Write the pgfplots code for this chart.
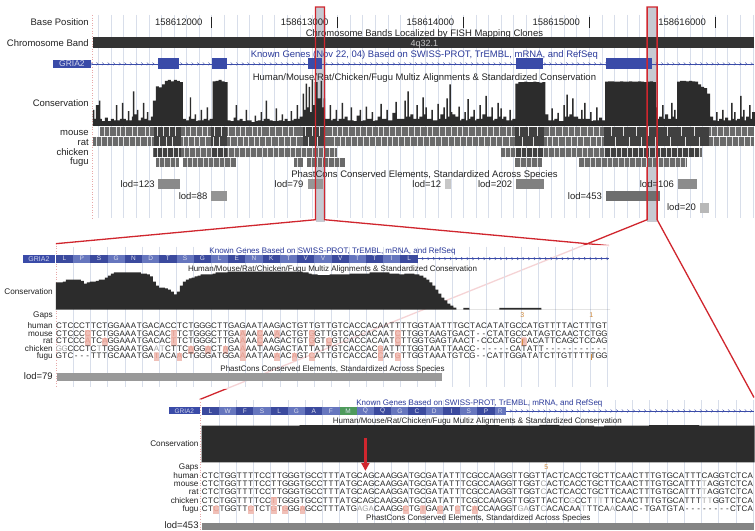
\documentclass[border=0pt]{standalone}
\usepackage{fontspec}
\setmainfont{Liberation Sans}
\usepackage{pgfplots}
\pgfplotsset{compat=1.18}
\usetikzlibrary{decorations.markings,arrows.meta}

\definecolor{gblue}{HTML}{3A4BA8}
\definecolor{tblue}{HTML}{2B3A9A}
\definecolor{aadark}{HTML}{3B4A9E}
\definecolor{aalight}{HTML}{6676BE}
\definecolor{aagreen}{HTML}{4E9A5C}
\definecolor{consc}{HTML}{2C2C2C}
\definecolor{gridc}{HTML}{D8DEEA}
\definecolor{redc}{HTML}{D0262E}
\definecolor{hil}{HTML}{C6CAD2}
\definecolor{bandc}{HTML}{333333}
\definecolor{seqpink}{HTML}{F0C0B8}
\definecolor{seqpinktxt}{HTML}{E49A8C}
\definecolor{seqlight}{HTML}{A0A0A0}
\definecolor{orng}{HTML}{D08A3C}
\definecolor{pinkline}{HTML}{E8A8A8}
\definecolor{trkbase}{HTML}{6A6A6A}
\definecolor{trkdark}{HTML}{404040}
\definecolor{txtc}{HTML}{222222}

% font sizes: top panel, zoomed panels, zoomed-panel labels
\newcommand\fA{\fontsize{9.5}{11}\selectfont}
\newcommand\fB{\fontsize{8}{9}\selectfont}
\newcommand\fL{\fontsize{8.2}{9}\selectfont}

% one alignment row: fixed-width columns; lowercase = mismatch box, +X = faint base
\newlength\colw
\setlength\colw{5.75pt}
\makeatletter
\newif\ifsq@light
\def\sq@stop{\sq@stop}
\newcommand\seqrow[1]{\global\sq@lightfalse\sq@loop#1\sq@stop}
\def\sq@loop#1{\ifx#1\sq@stop\else\sq@char#1\expandafter\sq@loop\fi}
\def\sq@char#1{%
  \if#1+\global\sq@lighttrue
  \else
    \ifnum`#1>96
      \sq@boxed{#1}%
    \else
      \ifsq@light\makebox[\colw]{\color{seqlight}#1}\else\makebox[\colw]{#1}\fi
    \fi
    \global\sq@lightfalse
  \fi}
\def\sq@boxed#1{\makebox[\colw]{\makebox[0pt]{\color{seqpink}\rule[-2.2pt]{\colw}{8pt}}\makebox[0pt]{\color{seqpinktxt}\uppercase{#1}}}}
\makeatother

\newcommand\drect[5]{\addplot[fill=#5, draw=none] coordinates {(#1,#3) (#2,#3) (#2,#4) (#1,#4)};}
\newcommand\stripes[3]{\addplot[only marks, mark=|, mark size=4.5pt, mark options={draw=#2, line width=0.7pt}] table[row sep=\\, y expr=#1] {x\\#3};}
\newcommand\aacell[5]{%
  \fill[#4] (axis cs:{#1+17.25*(#2-1)},{#5-4}) rectangle (axis cs:{#1+17.25*#2},{#5+4});
  \node[text=white!80!aadark, font=\fontsize{6.5}{7}\selectfont] at (axis cs:{#1+17.25*(#2-0.5)},#5) {#3};}
\newcommand\lod[8]{%
  \drect{#1}{#2}{#3}{#4}{#5}
  \node[anchor=base east, font=\fA] at (axis cs:#6,#7) {lod=#8};}

\tikzset{
  every node/.style={inner sep=0pt, text=txtc},
  geneline/.style={draw=gblue, line width=0.5pt, postaction={decorate, decoration={markings,
    mark=between positions 0 and 1 step 5.6pt with {\draw[gblue, line width=0.4pt] (-1pt,1.4pt)--(0.6pt,0pt)--(-1pt,-1.4pt);}}}},
  gridline/.style={draw=gridc, line width=0.5pt},
  border/.style={draw=pinkline, line width=0.6pt, dotted},
}

\begin{document}
\begin{tikzpicture}
\begin{axis}[
  at={(0,0)}, anchor=south west,
  scale only axis, width=755pt, height=531pt,
  xmin=0, xmax=755, ymin=0, ymax=531, y dir=reverse,
  hide axis, clip=false,
  every axis plot/.append style={mark=none},
]
\fill[white] (axis cs:0,0) rectangle (axis cs:755,531);

%% ---------------- overview panel ----------------
\pgfplotsinvokeforeach{-9,...,43}{\draw[gridline] (axis cs:{212+12.6*#1},15) -- (axis cs:{212+12.6*#1},218);}
\draw[border] (axis cs:92,15) -- (axis cs:92,218);
\fill[hil] (axis cs:316,7) rectangle (axis cs:325,222);
\fill[hil] (axis cs:648,7) rectangle (axis cs:658,222);

\node[anchor=base east, font=\fA] at (axis cs:89,26) {Base Position};
\node[anchor=base east, font=\fA] at (axis cs:203,26) {158612000};
\node[anchor=base east, font=\fA] at (axis cs:329,26) {158613000};
\node[anchor=base east, font=\fA] at (axis cs:455,26) {158614000};
\node[anchor=base east, font=\fA] at (axis cs:581,26) {158615000};
\node[anchor=base east, font=\fA] at (axis cs:707,26) {158616000};
\draw[line width=0.9pt, txtc] (axis cs:212,17) -- (axis cs:212,28);
\draw[line width=0.9pt, txtc] (axis cs:338,17) -- (axis cs:338,28);
\draw[line width=0.9pt, txtc] (axis cs:464,17) -- (axis cs:464,28);
\draw[line width=0.9pt, txtc] (axis cs:590,17) -- (axis cs:590,28);
\draw[line width=0.9pt, txtc] (axis cs:716,17) -- (axis cs:716,28);

\node[anchor=base, font=\fA] at (axis cs:425,36.3) {Chromosome Bands Localized by FISH Mapping Clones};
\node[anchor=base east, font=\fA] at (axis cs:89,46.5) {Chromosome Band};
\drect{93}{755}{37}{48}{bandc}
\node[anchor=base, text=black!22, font=\fontsize{9}{10}\selectfont] at (axis cs:425,46.2) {4q32.1};

\node[anchor=base, text=tblue, font=\fA] at (axis cs:425,57.5) {Known Genes (Nov 22, 04) Based on SWISS-PROT, TrEMBL, mRNA, and RefSeq};
\draw[geneline] (axis cs:92,64) -- (axis cs:755,64);
\fill[gblue] (axis cs:53,60) rectangle (axis cs:91,68);
\node[text=white!78!gblue, font=\fontsize{8.5}{9}\selectfont] at (axis cs:72,64) {GRIA2};
\drect{158}{179}{58.5}{69.5}{gblue}
\drect{212}{227}{58.5}{69.5}{gblue}
\drect{308}{322}{58.5}{69.5}{gblue}
\drect{517}{544}{58.5}{69.5}{gblue}
\drect{607}{653}{58.5}{69.5}{gblue}

\node[anchor=base, font=\fA] at (axis cs:425,80.4) {Human/Mouse/Rat/Chicken/Fugu Multiz Alignments \& Standardized Conservation};
\node[anchor=base east, font=\fA] at (axis cs:89,107) {Conservation};

% conservation score, overview
\addplot[const plot, fill=consc, draw=none] table[x=x, y expr=126-46*\thisrow{h}] {
x h
92.5 0
93 .35
94.5 .15
96 .45
99 .55
100.5 .15
102 .10
105 .18
108 .10
111 .15
114 .12
116 .45
117.5 .12
120 .15
122 .50
123.5 .15
126 .12
128 .32
129.5 .12
132 .20
133 .75
134.5 .25
137 .35
138.5 .12
141 .18
143 .50
144.5 .15
147 .30
148.5 .12
151 .20
153 .55
156 .86
159 .84
162 .90
165 .98
168 1
171 .97
174 1
177 .98
180 .95
183 .15
186 .12
189 .20
190 .62
191.5 .15
195 .25
196.5 .10
198 .12
201 .35
202.5 .12
204 .15
207 .40
208.5 .12
210 .15
213 .97
216 .98
219 1
222 .97
225 .95
228 .12
231 .10
234 .18
236 .45
237.5 .12
240 .15
243 .10
246 .35
247.5 .12
249 .12
252 .08
255 .22
256.5 .10
258 .12
261 .30
262.5 .10
264 .15
266 .55
267.5 .15
270 .12
273 .10
276 .38
277.5 .10
279 .12
282 .25
283.5 .10
285 .15
288 .10
291 .32
292.5 .12
294 .15
297 .45
298.5 .15
300 .20
303 .70
304.5 .35
306 .92
307.5 .40
309 .85
310.5 .30
312 1
313.5 .45
315 .95
318 .60
321 .98
322.5 .40
324 .60
325.5 .15
327 .15
330 .45
331.5 .12
333 .15
336 .35
337.5 .10
339 .15
342 .50
343.5 .15
345 .20
348 .12
351 .40
352.5 .12
354 .10
357 .22
360 .35
361.5 .10
363 .12
366 .42
367.5 .15
369 .15
372 .30
373.5 .10
375 .12
378 .20
381 .48
382.5 .15
384 .15
387 .35
388.5 .12
390 .12
393 .28
396 .52
397.5 .15
399 .15
402 .15
405 .55
406.5 .20
408 .75
409.5 .20
411 .25
414 .15
417 .45
418.5 .15
420 .20
423 .62
424.5 .25
426 .40
427.5 .15
429 .15
432 .35
433.5 .12
435 .12
438 .48
439.5 .15
441 .25
444 .40
445.5 .15
447 .60
448.5 .20
450 .90
451.5 .30
453 .25
456 .20
459 .42
460.5 .12
462 .15
465 .30
466.5 .12
468 .58
469.5 .15
471 .20
474 .35
475.5 .12
477 .15
480 .45
481.5 .15
483 .25
486 .65
487.5 .20
489 .20
492 .40
493.5 .12
495 .15
498 .50
499.5 .20
501 .38
502.5 .15
504 .20
507 .12
510 .35
511.5 .12
513 .15
516 .92
519 .95
522 .95
525 .96
528 .95
531 .95
534 .96
537 .95
540 .94
543 .95
546 .25
549 .12
552 .38
553.5 .12
555 .15
558 .28
559.5 .10
561 .10
564 .45
565.5 .20
567 .68
568.5 .20
570 .25
573 .60
574.5 .20
576 .20
579 .15
582 .35
583.5 .15
585 .50
586.5 .15
588 .15
591 .30
592.5 .10
594 .12
597 .40
598.5 .12
600 .18
603 .12
606 .96
609 .97
612 .97
615 .96
618 .96
621 .97
624 .96
627 .96
630 .97
633 .96
636 .96
639 .97
642 .96
645 .95
648 .96
651 .97
654 .95
657 .40
658.5 .15
660 .20
663 .45
664.5 .15
666 .25
669 .15
672 .50
673.5 .20
675 .35
676.5 .15
678 .96
681 .98
684 .98
687 .97
690 .98
693 .97
696 .96
699 .90
702 .85
705 .82
708 .70
711 .20
714 .12
717 .30
718.5 .10
720 .15
723 .35
724.5 .12
726 .18
729 .12
732 .50
733.5 .15
735 .30
736.5 .12
738 .15
741 .65
742.5 .20
744 .35
745.5 .12
747 .20
750 .45
751.5 .15
753 .30
756 0
};

% pairwise alignment tracks
\node[anchor=base east, font=\fA] at (axis cs:89,135.5) {mouse};
\node[anchor=base east, font=\fA] at (axis cs:89,145.5) {rat};
\node[anchor=base east, font=\fA] at (axis cs:89,155.5) {chicken};
\node[anchor=base east, font=\fA] at (axis cs:89,165) {fugu};
\drect{100}{755}{127.5}{136.5}{trkbase}
\drect{93}{755}{137.5}{146.5}{trkbase}
\drect{153}{337}{148}{157}{trkbase}
\drect{502}{703}{148}{157}{trkbase}
\drect{156}{179}{158}{167}{trkbase}
\drect{183}{236}{158}{167}{trkbase}
\drect{294}{303}{158}{167}{trkbase}
\drect{307}{345}{158}{167}{trkbase}
\drect{516}{543}{158}{167}{trkbase}
\drect{580}{688}{158}{167}{trkbase}
\drect{154}{181}{127.5}{146.5}{trkdark}
\drect{211}{227}{127.5}{146.5}{trkdark}
\drect{303}{325}{127.5}{146.5}{trkdark}
\drect{516}{545}{127.5}{146.5}{trkdark}
\drect{605}{710}{127.5}{146.5}{trkdark}
\drect{154}{181}{148}{157}{trkdark}
\drect{211}{227}{148}{157}{trkdark}
\drect{516}{545}{148}{157}{trkdark}
\drect{605}{700}{148}{157}{trkdark}
\stripes{132}{white!88!black}{104\\109\\117\\121\\126\\133\\138\\146\\150\\158\\164\\170\\176\\186\\191\\197\\203\\208\\215\\222\\229\\236\\241\\246\\253\\258\\262\\270\\276\\283\\289\\294\\306\\313\\320\\333\\338\\343\\349\\356\\361\\367\\373\\379\\384\\390\\396\\402\\409\\415\\421\\428\\433\\440\\446\\452\\458\\463\\469\\476\\482\\488\\494\\500\\507\\512\\520\\529\\538\\550\\556\\563\\569\\575\\581\\588\\594\\600\\612\\624\\637\\649\\668\\682\\695\\712\\718\\724\\730\\736\\742\\748\\}
\stripes{142}{white!88!black}{96\\101\\107\\112\\119\\124\\130\\136\\141\\148\\152\\160\\167\\173\\184\\189\\195\\200\\206\\214\\220\\231\\238\\244\\249\\255\\260\\266\\272\\279\\285\\291\\297\\309\\318\\335\\341\\346\\352\\358\\364\\370\\376\\382\\388\\393\\399\\405\\411\\418\\424\\430\\436\\442\\449\\455\\461\\467\\473\\479\\485\\491\\497\\503\\510\\523\\534\\548\\553\\559\\566\\572\\578\\584\\591\\597\\602\\616\\630\\642\\656\\671\\686\\700\\714\\720\\727\\733\\739\\745\\751\\}
\stripes{152.5}{white!85!black}{158\\163\\168\\174\\179\\185\\190\\196\\201\\207\\212\\218\\224\\229\\235\\240\\246\\251\\257\\263\\268\\274\\279\\285\\291\\296\\302\\307\\313\\319\\324\\330\\335\\506\\511\\516\\522\\527\\533\\538\\544\\549\\555\\560\\566\\572\\577\\583\\588\\594\\600\\605\\611\\617\\622\\628\\633\\639\\644\\650\\656\\661\\667\\672\\678\\683\\689\\695\\700\\}
\stripes{162.5}{white!85!black}{160\\165\\171\\176\\188\\193\\198\\204\\209\\214\\220\\225\\231\\298\\312\\318\\323\\329\\335\\340\\521\\527\\532\\538\\585\\591\\596\\602\\608\\613\\619\\625\\630\\636\\642\\647\\653\\659\\664\\670\\676\\681\\686\\}

% PhastCons conserved elements
\node[anchor=base, font=\fA] at (axis cs:425,178) {PhastCons Conserved Elements, Standardized Across Species};
\lod{158}{180}{179}{189}{black!46}{155}{188}{123}
\lod{211}{227}{191}{201}{black!42}{208}{199.5}{88}
\lod{308}{323}{179}{189}{black!41}{304}{188}{79}
\lod{446}{452}{179}{189}{black!22}{442}{188}{12}
\lod{517}{545}{179}{189}{black!50}{513}{188}{202}
\lod{607}{661}{191}{201}{black!57}{603}{199.5}{453}
\lod{679}{698}{179}{189}{black!45}{675}{188}{106}
\lod{701}{710}{203}{213}{black!28}{697}{211}{20}

% zoom frames
\draw[redc, line width=1.3pt, line join=miter] (axis cs:56,244) -- (axis cs:316,220) -- (axis cs:316,7) -- (axis cs:325,7) -- (axis cs:325,220) -- (axis cs:610,246);
\draw[redc, line width=1.3pt, line join=miter] (axis cs:200,400) -- (axis cs:648,220) -- (axis cs:648,7) -- (axis cs:658,7) -- (axis cs:658,220) -- (axis cs:755,398);

%% ---------------- first zoomed panel ----------------
\fill[white, opacity=0.8] (axis cs:56.7,245.5) rectangle (axis cs:611,390);
\pgfplotsinvokeforeach{1,...,32}{\draw[gridline] (axis cs:{56+17.25*#1},247) -- (axis cs:{56+17.25*#1},388);}
\draw[border] (axis cs:56,246) -- (axis cs:56,388);
\node[anchor=base, text=tblue, font=\fB] at (axis cs:333,254) {Known Genes Based on SWISS-PROT, TrEMBL, mRNA, and RefSeq};
\draw[geneline] (axis cs:418,259) -- (axis cs:610,259);
\fill[gblue] (axis cs:23,255) rectangle (axis cs:55,263);
\node[text=white!75!gblue, font=\fontsize{7}{7}\selectfont] at (axis cs:39,259) {GRIA2};
\aacell{56}{1}{L}{aadark}{259}
\aacell{56}{2}{P}{aalight}{259}
\aacell{56}{3}{S}{aadark}{259}
\aacell{56}{4}{G}{aalight}{259}
\aacell{56}{5}{N}{aadark}{259}
\aacell{56}{6}{D}{aalight}{259}
\aacell{56}{7}{T}{aadark}{259}
\aacell{56}{8}{S}{aalight}{259}
\aacell{56}{9}{G}{aadark}{259}
\aacell{56}{10}{L}{aalight}{259}
\aacell{56}{11}{E}{aadark}{259}
\aacell{56}{12}{N}{aalight}{259}
\aacell{56}{13}{K}{aadark}{259}
\aacell{56}{14}{T}{aalight}{259}
\aacell{56}{15}{V}{aadark}{259}
\aacell{56}{16}{V}{aalight}{259}
\aacell{56}{17}{V}{aadark}{259}
\aacell{56}{18}{T}{aalight}{259}
\aacell{56}{19}{T}{aadark}{259}
\aacell{56}{20}{I}{aalight}{259}
\aacell{56}{21}{L}{aadark}{259}
\node[anchor=base, font=\fB] at (axis cs:333,272) {Human/Mouse/Rat/Chicken/Fugu Multiz Alignments \& Standardized Conservation};
\node[anchor=base east, font=\fL] at (axis cs:53,295) {Conservation};

\addplot[const plot, fill=consc, draw=none] table[x=x, y expr=310-40*\thisrow{h}] {
x h
55.5 0
56 .68
63 .70
66 .75
81 .72
84 .65
87 .68
90 .70
96 .72
99 .75
105 .80
108 .85
111 .90
114 .93
141 .90
147 .88
150 .83
153 .70
156 .60
159 .55
165 .53
168 .50
171 .45
174 .38
177 .45
180 .60
183 .70
186 .75
189 .78
192 .80
195 .83
198 .85
201 .88
213 .90
216 .93
228 .95
303 .93
309 .90
312 .88
318 .86
330 .88
350 .90
370 .93
390 .90
400 .88
405 .90
415 .88
420 .85
424 .80
427 .75
430 .68
433 .60
436 .50
439 .40
442 .30
445 .23
448 .15
451 .10
454 .05
457 0
464 .04
470 0
500 .04
542 0
611 0
};

\node[anchor=base east, font=\fL] at (axis cs:53,318) {Gaps};
\node[anchor=base, text=orng, font=\fontsize{7}{7}\selectfont] at (axis cs:523,318) {3};
\node[anchor=base, text=orng, font=\fontsize{7}{7}\selectfont] at (axis cs:592,318) {1};
\node[anchor=base east, font=\fL] at (axis cs:53,329) {human};
\node[anchor=base east, font=\fL] at (axis cs:53,336.6) {mouse};
\node[anchor=base east, font=\fL] at (axis cs:53,344.2) {rat};
\node[anchor=base east, font=\fL] at (axis cs:53,351.8) {chicken};
\node[anchor=base east, font=\fL] at (axis cs:53,359.4) {fugu};
\node[anchor=base west, font=\fB] at (axis cs:56,329) {\seqrow{CTCCCTTCTGGAAATGACACCTCTGGGCTTGAGAATAAGACTGTTGTTGTCACCACAATTTTGGTAATTTGCTACATATGCCATGTTTTACTTTGT}};
\node[anchor=base west, font=\fB] at (axis cs:56,336.6) {\seqrow{CTCCCcTCTGGAAATGACACtTCTGGGCTTGAaAAcAAaACTGTgGTTGTCACCACAATcTTGGTAAGTGACT--CTATGCCATAGTCAACTCTGG}};
\node[anchor=base west, font=\fB] at (axis cs:56,344.2) {\seqrow{CTCCCaTCaGGAAATGACACtTCTGGGCTTGAaAAcAAGACTGTgGTcGTCACCACAATcTTGGTGAGTAACT-CCCATGCtACATTCAGCTCCAG}};
\node[anchor=base west, font=\fB] at (axis cs:56,351.8) {\seqrow{+G+GCCCTC+TTGGAAATGA+A+TCTTCaGGaCTaGAaAATAAGACTATTATTGTCACCACgATTTTGGTAATTAACC------CATATT-----------}};
\node[anchor=base west, font=\fB] at (axis cs:56,359.4) {\seqrow{GTC---TTTGCAAATGAtACAaCTGGGATGGAaAATAAaACaGTcATTGTCACCACcATgTTGGTAAATGTCG--CATTGGATATCTTGTTTTTGG}};
\draw[orng, line width=0.8pt] (axis cs:522.8,339) -- (axis cs:522.8,345);
\draw[orng, line width=0.8pt] (axis cs:592,354) -- (axis cs:592,360);
\node[anchor=base, font=\fB] at (axis cs:333,371.5) {PhastCons Conserved Elements, Standardized Across Species};
\lod{57}{443}{373.3}{381}{black!40}{53}{379.5}{79}

%% ---------------- second zoomed panel ----------------
\pgfplotsinvokeforeach{1,...,32}{\draw[gridline] (axis cs:{202+17.25*#1},401) -- (axis cs:{202+17.25*#1},531);}
\draw[border] (axis cs:201,400) -- (axis cs:201,531);
\node[anchor=base, text=tblue, font=\fB] at (axis cs:480,406) {Known Genes Based on SWISS-PROT, TrEMBL, mRNA, and RefSeq};
\draw[geneline] (axis cs:506,411.5) -- (axis cs:755,411.5);
\fill[gblue] (axis cs:169,408) rectangle (axis cs:200,415);
\node[text=white!75!gblue, font=\fontsize{6.5}{7}\selectfont] at (axis cs:184.5,411.5) {GRIA2};
\aacell{202}{1}{L}{aadark}{411.5}
\aacell{202}{2}{W}{aalight}{411.5}
\aacell{202}{3}{F}{aadark}{411.5}
\aacell{202}{4}{S}{aalight}{411.5}
\aacell{202}{5}{L}{aadark}{411.5}
\aacell{202}{6}{G}{aalight}{411.5}
\aacell{202}{7}{A}{aadark}{411.5}
\aacell{202}{8}{F}{aalight}{411.5}
\aacell{202}{9}{M}{aagreen}{411.5}
\aacell{202}{10}{Q}{aalight}{411.5}
\aacell{202}{11}{Q}{aadark}{411.5}
\aacell{202}{12}{G}{aalight}{411.5}
\aacell{202}{13}{C}{aadark}{411.5}
\aacell{202}{14}{D}{aalight}{411.5}
\aacell{202}{15}{I}{aadark}{411.5}
\aacell{202}{16}{S}{aalight}{411.5}
\aacell{202}{17}{P}{aadark}{411.5}
\fill[aalight] (axis cs:495.25,407.5) rectangle (axis cs:506.75,415.5);
\node[text=white!60!aalight, font=\fontsize{6.5}{7}\selectfont] at (axis cs:501,411.5) {R};
\node[anchor=base, font=\fB] at (axis cs:478,424) {Human/Mouse/Rat/Chicken/Fugu Multiz Alignments \& Standardized Conservation};
\node[anchor=base east, font=\fL] at (axis cs:199,447) {Conservation};

\addplot[const plot, fill=consc, draw=none] table[x=x, y expr=463-38*\thisrow{h}] {
x h
201.5 0
202 .97
250 .97
300 .98
400 .98
500 .97
540 .99
560 .97
595 .95
605 .97
650 .98
700 .97
755 .97
755.5 0
};

\node[anchor=base east, font=\fL] at (axis cs:199,470.5) {Gaps};
\node[anchor=base, text=orng, font=\fontsize{7}{7}\selectfont] at (axis cs:547,470) {5};
\node[anchor=base east, font=\fL] at (axis cs:199,479) {human};
\node[anchor=base east, font=\fL] at (axis cs:199,487.3) {mouse};
\node[anchor=base east, font=\fL] at (axis cs:199,495.6) {rat};
\node[anchor=base east, font=\fL] at (axis cs:199,503.9) {chicken};
\node[anchor=base east, font=\fL] at (axis cs:199,512.2) {fugu};
\node[anchor=base west, font=\fB] at (axis cs:202,479) {\seqrow{CTCTGGTTTTCCTTGGGTGCCTTTATGCAGCAAGGATGCGATATTTCGCCAAGGTTGGTTACTCACCTGCTTCAACTTTGTGCATTTCAGGTCTCA}};
\node[anchor=base west, font=\fB] at (axis cs:202,487.3) {\seqrow{CTCTGGTTTTCCTTGGGTGCCTTTATGCAGCAAGGATGCGATATTTCGCCAAGGTTGGT+CACTCACCTGCTTCAACTTTGTGCATTT+TAGGTCTCA}};
\node[anchor=base west, font=\fB] at (axis cs:202,495.6) {\seqrow{CTCTGGTTTTCCTTGGGTGCCTTTATGCAGCAAGGATGCGATATTTCGCCAAGGTTGGT+CACTCACCTGCTTCAACTTTGTGCATTT+TAGGTCTCA}};
\node[anchor=base west, font=\fB] at (axis cs:202,503.9) {\seqrow{CTCTGGTTTTCCtTGGGTGCCTTTATGCAGCAAGGATGCGATATTTCGCCAAGGTTGGTTACTC+GCCT+T+TTTCAACTTTGTGCATTT+T+TGGTCTCA}};
\node[anchor=base west, font=\fB] at (axis cs:202,512.2) {\seqrow{CTcTGGTTcTCTgTgGGaGCCTTTATG+A+G+ACAAGGcTGtGAcATcTCaCCAAGGT+G+AGT+CACACAA+TTTCA+ACAAC-TGATGTA--------CTCA}};
\node[anchor=base, font=\fB] at (axis cs:479,521) {PhastCons Conserved Elements, Standardized Across Species};
\lod{202}{755}{523.3}{531}{black!48}{199}{529}{453}

% start-codon pointer
\draw[draw=redc, fill=redc, line width=2.2pt, opacity=1, -{Triangle[length=8pt,width=8pt]}] (axis cs:365.9,439) -- (axis cs:365.9,471.5);

\end{axis}
\end{tikzpicture}
\end{document}
